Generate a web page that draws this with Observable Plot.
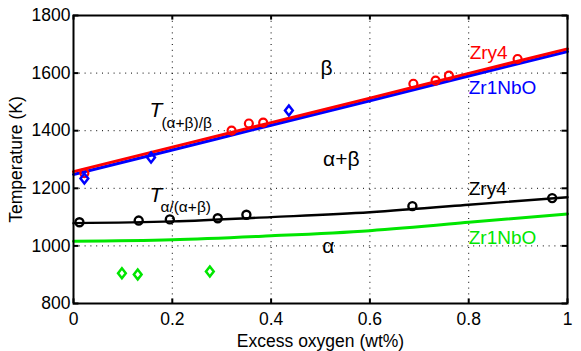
<!DOCTYPE html>
<html><head><meta charset="utf-8">
<script src="https://cdn.jsdelivr.net/npm/d3@7"></script>
<script src="https://cdn.jsdelivr.net/npm/@observablehq/plot@0.6"></script>
<style>
body{margin:0;background:#fff;}
#chart svg{font-family:"Liberation Sans",Arial,Helvetica,sans-serif;}
</style>
</head><body><div id="chart"></div>
<script>
// tick values
const xTicks = [0, 0.2, 0.4, 0.6, 0.8, 1];
const yTicks = [800, 1000, 1200, 1400, 1600, 1800];

// fitted transition curves
const lineX = [0, 0.2, 0.4, 0.6, 0.8, 1];
const zry4BetaLine   = [1258, 1343, 1428, 1513, 1599, 1684];
const zr1nboBetaLine = [1248, 1333, 1419, 1504, 1590, 1675];
const zry4AlphaLine  = [1079, 1085, 1100, 1117, 1143, 1169];
const zr1nboAlphaLine= [1016, 1021, 1035, 1053, 1082, 1111];

// measured points
const zry4BetaX = [0.022, 0.32, 0.355, 0.384, 0.688, 0.733, 0.76, 0.899];
const zry4BetaT = [1253, 1400, 1425, 1428, 1563, 1574, 1591, 1649];
const zr1nboBetaX = [0.022, 0.157, 0.436];
const zr1nboBetaT = [1234, 1307, 1470];
const zry4AlphaX = [0.012, 0.132, 0.195, 0.292, 0.35, 0.686, 0.969];
const zry4AlphaT = [1082, 1088, 1092, 1096, 1108, 1138, 1166];
const zr1nboAlphaX = [0.098, 0.13, 0.276];
const zr1nboAlphaT = [905, 901, 911];

// annotation texts
const zoneLabels = ["β", "α+β", "α"];
const zoneX = [0.512, 0.542, 0.516];
const zoneT = [1592, 1279, 975];
const seriesLabels = ["Zry4", "Zr1NbO", "Zry4", "Zr1NbO"];
const seriesColors = ["#ff0000", "#0000ff", "#000000", "#00e600"];
const seriesX = [0.802, 0.8, 0.8, 0.8];
const seriesT = [1650, 1528, 1178, 1007];
const tempSymbol = ["T", "T"];
const tempSub = ["(α+β)/β", "α/(α+β)"];
const tempX = [0.154, 0.154];
const tempT = [1449, 1154];
const tempSubX = [0.178, 0.176];
const tempSubT = [1411, 1117];

const lines = (ys) => lineX.map((x, i) => ({x, y: ys[i]}));
const pts = (xs, ys) => xs.map((x, i) => ({x, y: ys[i]}));
const idx = (a) => a.map((_, i) => i);

const diamond = {
  draw(ctx, size) {
    const s = Math.sqrt(size / Math.PI);
    const hh = s * 1.15, hw = s * 0.9;
    ctx.moveTo(0, -hh); ctx.lineTo(hw, 0); ctx.lineTo(0, hh); ctx.lineTo(-hw, 0); ctx.closePath();
  }
};

const dash = "1,4.8";
const chart = Plot.plot({
  width: 581, height: 351,
  marginLeft: 73, marginRight: 14, marginTop: 15, marginBottom: 48,
  style: {fontFamily: "'Liberation Sans', Arial, sans-serif", background: "#fff"},
  x: {domain: [0, 1]},
  y: {domain: [800, 1800]},
  marks: [
    Plot.gridX(xTicks, {stroke: "#000", strokeOpacity: 1, strokeWidth: 1, strokeDasharray: dash}),
    Plot.gridY(yTicks, {stroke: "#000", strokeOpacity: 1, strokeWidth: 1, strokeDasharray: dash}),
    Plot.axisX(xTicks, {tickSize: 0, tickPadding: 9, fontSize: 17.5, tickFormat: d => d === 0 || d === 1 ? String(d) : d.toFixed(1),
      label: "Excess oxygen (wt%)", labelAnchor: "center", labelArrow: "none", labelOffset: 43, color: "#000"}),
    Plot.axisY(yTicks, {tickSize: 0, tickPadding: 3, fontSize: 17.5, tickFormat: d => String(d),
      label: "Temperature (K)", labelAnchor: "center", labelArrow: "none", labelOffset: 64, color: "#000"}),
    Plot.line(lines(zr1nboAlphaLine), {x: "x", y: "y", stroke: "#00e600", strokeWidth: 3, curve: "natural"}),
    Plot.line(lines(zry4AlphaLine), {x: "x", y: "y", stroke: "#000", strokeWidth: 2.4, curve: "natural"}),
    Plot.line(lines(zr1nboBetaLine), {x: "x", y: "y", stroke: "#0000ff", strokeWidth: 3, curve: "natural"}),
    Plot.line(lines(zry4BetaLine), {x: "x", y: "y", stroke: "#ff0000", strokeWidth: 3, curve: "natural"}),
    Plot.dot(pts(zry4BetaX, zry4BetaT), {x: "x", y: "y", r: 4, stroke: "#ff0000", strokeWidth: 2.2}),
    Plot.dot(pts(zr1nboBetaX, zr1nboBetaT), {x: "x", y: "y", r: 4.3, symbol: diamond, stroke: "#0000ff", strokeWidth: 2.5}),
    Plot.dot(pts(zry4AlphaX, zry4AlphaT), {x: "x", y: "y", r: 4, stroke: "#000", strokeWidth: 2.4}),
    Plot.dot(pts(zr1nboAlphaX, zr1nboAlphaT), {x: "x", y: "y", r: 4.3, symbol: diamond, stroke: "#00e600", strokeWidth: 2.5}),
    Plot.frame({stroke: "#000", strokeWidth: 2}),
    // inward tick marks
    Plot.ruleY(yTicks, {y: d => d, x1: 0, x2: 0.011, stroke: "#000", strokeWidth: 2}),
    Plot.ruleY(yTicks, {y: d => d, x1: 0.989, x2: 1, stroke: "#000", strokeWidth: 2}),
    Plot.ruleX(xTicks, {x: d => d, y1: 800, y2: 816, stroke: "#000", strokeWidth: 2}),
    Plot.ruleX(xTicks, {x: d => d, y1: 1784, y2: 1800, stroke: "#000", strokeWidth: 2}),
    Plot.text(idx(zoneLabels), {x: i => zoneX[i], y: i => zoneT[i], text: i => zoneLabels[i], fontSize: 21, lineAnchor: "bottom", fill: "#000"}),
    Plot.text(idx(seriesLabels), {x: i => seriesX[i], y: i => seriesT[i], text: i => seriesLabels[i], fill: i => seriesColors[i], fontSize: 19, textAnchor: "start", lineAnchor: "bottom"}),
    Plot.text(idx(tempSymbol), {x: i => tempX[i], y: i => tempT[i], text: i => tempSymbol[i], fontSize: 21, fontStyle: "italic", textAnchor: "start", lineAnchor: "bottom", fill: "#000"}),
    Plot.text(idx(tempSub), {x: i => tempSubX[i], y: i => tempSubT[i], text: i => tempSub[i], fontSize: 15.5, textAnchor: "start", lineAnchor: "bottom", fill: "#000"})
  ]
});
document.getElementById("chart").appendChild(chart);
</script>
</body></html>
